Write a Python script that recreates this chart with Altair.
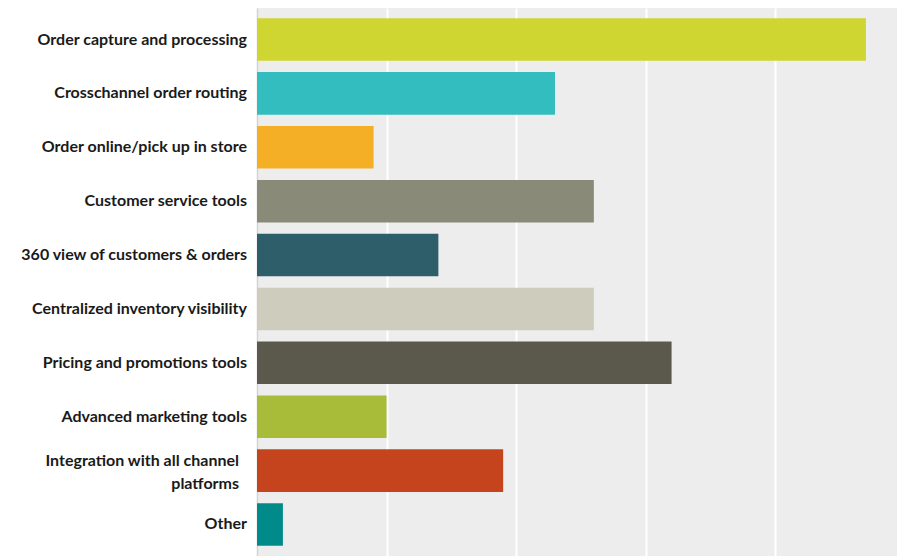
import altair as alt
import pandas as pd

categories = [
    "Order capture and processing",
    "Crosschannel order routing",
    "Order online/pick up in store",
    "Customer service tools",
    "360 view of customers & orders",
    "Centralized inventory visibility",
    "Pricing and promotions tools",
    "Advanced marketing tools",
    "Integration with all channel|platforms",
    "Other",
]
values = [47, 23, 9, 26, 14, 26, 32, 10, 19, 2]
colors = [
    "#CFD531", "#33BDBE", "#F5AF26", "#898A78", "#2D5E6A",
    "#CECCBD", "#5B594B", "#A8BC3A", "#C6441D", "#008B8A",
]

df = pd.DataFrame({"category": categories, "value": values})

y_enc = alt.Y(
    "category:N",
    sort=categories,
    scale=alt.Scale(paddingInner=0.21, paddingOuter=0.19),
    axis=alt.Axis(
        title=None,
        ticks=False,
        labels=False,
        domain=True,
        domainColor="#D4D4D4",
        domainWidth=1.5,
    ),
)

bars = (
    alt.Chart(df)
    .mark_bar()
    .encode(
        y=y_enc,
        x=alt.X(
            "value:Q",
            scale=alt.Scale(domain=[0, 49.4], nice=False),
            axis=alt.Axis(
                title=None,
                labels=False,
                ticks=False,
                domain=False,
                grid=True,
                gridColor="#FFFFFF",
                gridWidth=2,
                values=[10, 20, 30, 40],
            ),
        ),
        color=alt.Color(
            "category:N",
            sort=categories,
            scale=alt.Scale(domain=categories, range=colors),
            legend=None,
        ),
    )
)

text_style = dict(
    align="right",
    baseline="middle",
    font="Lato",
    fontWeight="bold",
    fontSize=16,
    color="#1A1A1A",
    lineBreak="|",
    lineHeight=23,
)

single = (
    alt.Chart(df)
    .transform_filter("indexof(datum.category, '|') < 0")
    .mark_text(**text_style)
    .encode(
        y=alt.Y("category:N", sort=categories),
        x=alt.value(-10),
        text="category:N",
    )
)

multi = (
    alt.Chart(df)
    .transform_filter("indexof(datum.category, '|') >= 0")
    .mark_text(dy=-10, dx=-8, **text_style)
    .encode(
        y=alt.Y("category:N", sort=categories),
        x=alt.value(-10),
        text="category:N",
    )
)

chart = (
    alt.layer(bars, single, multi)
    .properties(
        width=640,
        height=548,
        autosize=alt.AutoSizeParams(type="none"),
        padding={"left": 257, "top": 8, "right": 0, "bottom": 0},
        background="#FFFFFF",
    )
    .configure_view(fill="#EDEDED", strokeWidth=0)
)

chart.save("out.html", embed_options={"renderer": "svg", "actions": False})
